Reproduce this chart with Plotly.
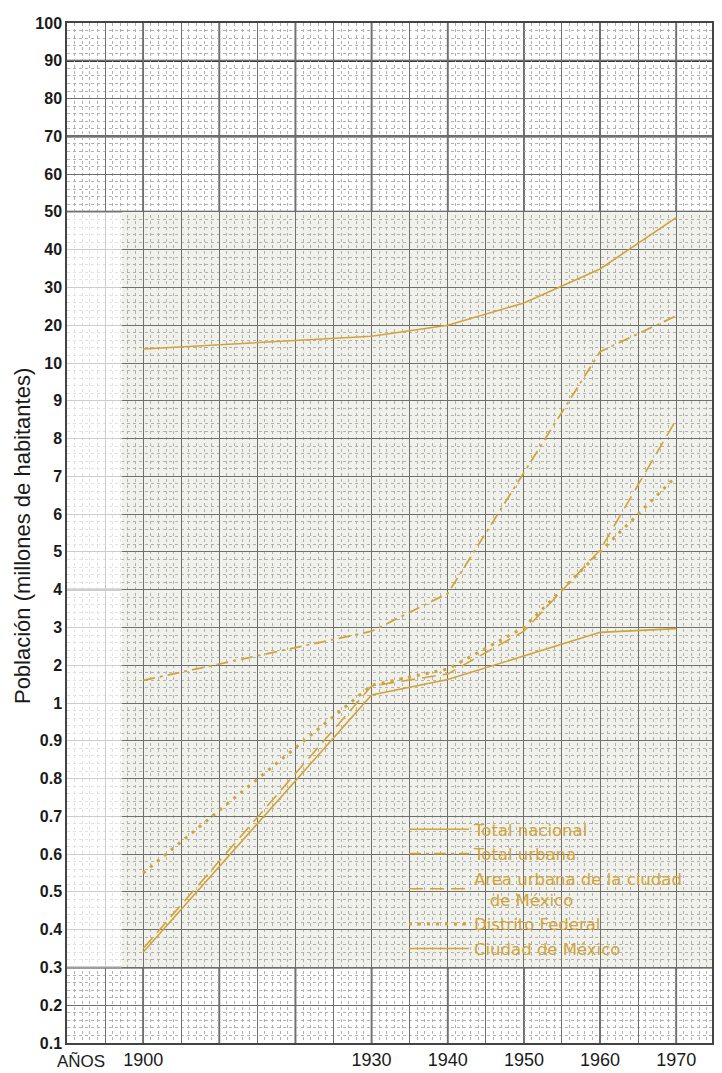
import numpy as np
import plotly.graph_objects as go

# ---------------- data ----------------
YEARS = [1900, 1930, 1940, 1950, 1960, 1970]
TOTAL_NACIONAL = [13.7, 17.1, 20.0, 25.9, 34.9, 48.5]
TOTAL_URBANA = [1.6, 2.9, 3.9, 7.1, 13.0, 22.5]
AREA_URBANA = [0.35, 1.45, 1.77, 2.9, 5.05, 8.5]
DISTRITO_FEDERAL = [0.55, 1.47, 1.9, 3.0, 5.0, 7.0]
CIUDAD_MEXICO = [0.34, 1.21, 1.62, 2.24, 2.87, 2.97]

SERIES_NAMES = [
    "Total nacional",
    "Total urbana",
    "Area urbana de la ciudad<br>\u00a0\u00a0\u00a0de México",
    "Distrito Federal",
    "Ciudad de México",
]

Y_TICKS = [0.1, 0.2, 0.3, 0.4, 0.5, 0.6, 0.7, 0.8, 0.9,
           1, 2, 3, 4, 5, 6, 7, 8, 9,
           10, 20, 30, 40, 50, 60, 70, 80, 90, 100]
Y_TICK_LABELS = ["0.1", "0.2", "0.3", "0.4", "0.5", "0.6", "0.7", "0.8", "0.9",
                 "1", "2", "3", "4", "5", "6", "7", "8", "9",
                 "10", "20", "30", "40", "50", "60", "70", "80", "90", "100"]
X_LABEL_YEARS = [1900, 1930, 1940, 1950, 1960, 1970]

THICK_Y_VALUES = [0.3, 4, 50, 70, 90]
THICK_X_YEARS = [1900, 1910, 1920, 1930, 1940, 1950, 1960, 1970]

# ---------------- scale: evenly spaced labelled values ----------------
Y_INDEX = list(range(len(Y_TICKS)))


def ypos(v):
    return np.interp(np.asarray(v, dtype=float), Y_TICKS, Y_INDEX)


X_RANGE = [1890, 1974.7]
Y_RANGE = [0, len(Y_TICKS) - 1]
SHADE_X0 = 1897.2

GOLD = "#cfa53a"
FONT = "Liberation Sans, Arial, Helvetica, sans-serif"
LEG_FONT = "DejaVu Sans, Liberation Sans, sans-serif"

fig = go.Figure()

styles = [
    dict(dash="solid", width=1.6),
    dict(dash="12px,5px,3px,5px", width=1.8),
    dict(dash="14px,7px", width=1.6),
    dict(dash="3px,6px", width=3.0),
    dict(dash="solid", width=1.6),
]
series = [TOTAL_NACIONAL, TOTAL_URBANA, AREA_URBANA, DISTRITO_FEDERAL, CIUDAD_MEXICO]

for name, vals, st in zip(SERIES_NAMES, series, styles):
    fig.add_trace(go.Scatter(
        x=YEARS, y=ypos(vals), mode="lines", name=name,
        line=dict(color=GOLD, width=st["width"], dash=st["dash"]),
        hovertemplate="%{x}<extra></extra>",
    ))

# shaded paper region
fig.add_shape(type="rect", layer="below", xref="x", yref="y",
              x0=SHADE_X0, x1=X_RANGE[1], y0=float(ypos(0.3)), y1=float(ypos(50)),
              fillcolor="#f1f1ec", line=dict(width=0))
# paler (sparser-looking) grid outside the shaded sheet
fig.add_shape(type="rect", layer="between", xref="x", yref="y",
              x0=X_RANGE[0], x1=SHADE_X0, y0=float(ypos(0.3)), y1=float(ypos(50)),
              fillcolor="white", opacity=0.65, line=dict(width=0))
fig.add_shape(type="rect", layer="between", xref="paper", yref="y",
              x0=0, x1=1, y0=Y_RANGE[0], y1=float(ypos(0.3)),
              fillcolor="white", opacity=0.75, line=dict(width=0))

# heavier grid lines
for v in THICK_Y_VALUES:
    fig.add_shape(type="line", layer="between", xref="paper", yref="y",
                  x0=0, x1=1, y0=float(ypos(v)), y1=float(ypos(v)),
                  line=dict(color="#3c3c3c", width=2.2))
for yr in THICK_X_YEARS:
    fig.add_shape(type="line", layer="between", xref="x", yref="paper",
                  x0=yr, x1=yr, y0=0, y1=1,
                  line=dict(color="#555555", width=1.8))

x_tickvals = list(range(1890, 1976, 5))
x_ticktext = [str(y) if y in X_LABEL_YEARS else "" for y in x_tickvals]

fig.update_xaxes(
    range=X_RANGE, tickmode="array", tickvals=x_tickvals, ticktext=x_ticktext,
    showgrid=True, gridcolor="#707070", gridwidth=1.2,
    minor=dict(tickmode="linear", tick0=1890, dtick=1, showgrid=True,
               gridcolor="#b0b0b0", gridwidth=1, griddash="dot", ticks=""),
    ticks="", zeroline=False, showline=True, linecolor="#444", linewidth=1.5,
    mirror=True, automargin=False,
    tickfont=dict(family=FONT, size=18, color="#1a1a1a"),
)
fig.update_yaxes(
    range=Y_RANGE, tickmode="array", tickvals=Y_INDEX, ticktext=Y_TICK_LABELS,
    showgrid=True, gridcolor="#707070", gridwidth=1.2,
    minor=dict(tickmode="linear", tick0=0, dtick=0.2, showgrid=True,
               gridcolor="#b0b0b0", gridwidth=1, griddash="dot", ticks=""),
    ticks="", zeroline=False, showline=True, linecolor="#444", linewidth=1.5,
    mirror=True, automargin=False,
    tickfont=dict(family=FONT, size=16, color="#1a1a1a", weight="bold"),
)

fig.add_annotation(text="Población (millones de habitantes)", xref="paper", yref="paper",
                   x=-0.0698, y=0.497, textangle=-90, showarrow=False,
                   xanchor="center", yanchor="middle",
                   font=dict(family=FONT, size=22, color="#1a1a1a"))
fig.add_annotation(text="AÑOS", xref="paper", yref="paper",
                   x=-0.0186, y=-0.0186, showarrow=False,
                   xanchor="left", yanchor="middle",
                   font=dict(family=FONT, size=17, color="#1a1a1a"))

fig.update_layout(
    width=714, height=1065,
    margin=dict(l=59, r=10, t=15, b=30),
    paper_bgcolor="white", plot_bgcolor="white",
    showlegend=True,
    legend=dict(x=0.5225, y=0.2265, xanchor="left", yanchor="top",
                bgcolor="rgba(0,0,0,0)", borderwidth=0, itemwidth=60,
                tracegroupgap=0,
                font=dict(family=LEG_FONT, size=16.5, color=GOLD)),
)

fig.write_html("out.html")
